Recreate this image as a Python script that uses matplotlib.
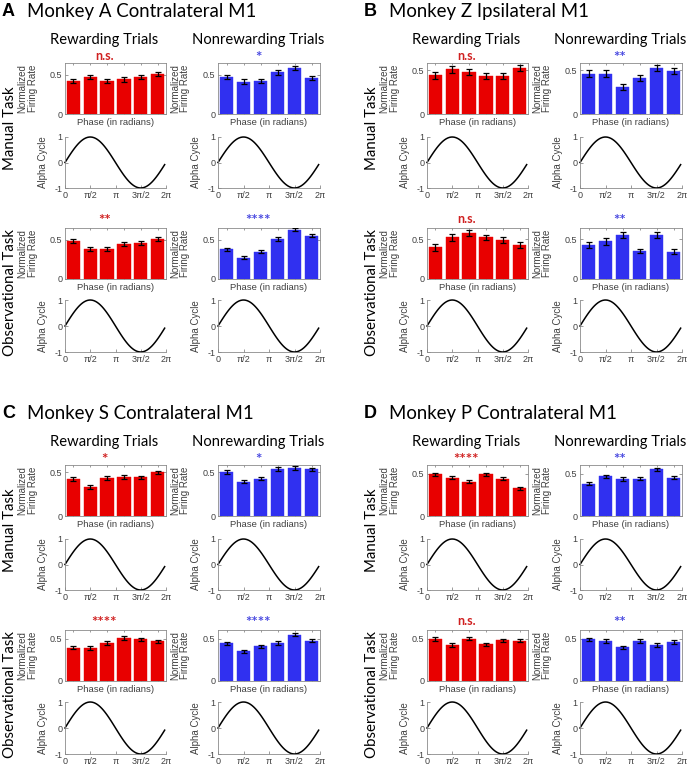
import numpy as np
import matplotlib
matplotlib.use('Agg')
import matplotlib.pyplot as plt

# ---------------- data ----------------
phase_bins = [1, 2, 3, 4, 5, 6]
phase_ticks = [0, np.pi / 2, np.pi, 3 * np.pi / 2, 2 * np.pi]
phase_ticklabels = ['0', 'π/2', 'π', '3π/2', '2π']

panel_letters = ['A', 'B', 'C', 'D']
panel_titles = ['Monkey A Contralateral M1', 'Monkey Z Ipsilateral M1',
                'Monkey S Contralateral M1', 'Monkey P Contralateral M1']
row_labels = ['Manual Task', 'Observational Task']
col_titles = ['Rewarding Trials', 'Nonrewarding Trials']

# Monkey A
A_manual_reward = [0.42, 0.47, 0.42, 0.44, 0.47, 0.51]
A_manual_reward_err = [0.03, 0.03, 0.03, 0.03, 0.03, 0.03]
A_manual_nonreward = [0.47, 0.41, 0.42, 0.53, 0.585, 0.46]
A_manual_nonreward_err = [0.03, 0.03, 0.03, 0.03, 0.03, 0.03]
A_obs_reward = [0.48, 0.38, 0.38, 0.45, 0.46, 0.51]
A_obs_reward_err = [0.025, 0.025, 0.025, 0.025, 0.025, 0.025]
A_obs_nonreward = [0.38, 0.27, 0.35, 0.51, 0.63, 0.55]
A_obs_nonreward_err = [0.02, 0.02, 0.02, 0.02, 0.02, 0.02]
A_sig = ['n.s.', '*', '**', '****']

# Monkey Z
B_manual_reward = [0.44, 0.51, 0.48, 0.435, 0.435, 0.52]
B_manual_reward_err = [0.04, 0.04, 0.035, 0.035, 0.035, 0.035]
B_manual_nonreward = [0.46, 0.46, 0.31, 0.41, 0.52, 0.485]
B_manual_nonreward_err = [0.04, 0.035, 0.035, 0.035, 0.035, 0.035]
B_obs_reward = [0.40, 0.525, 0.58, 0.525, 0.49, 0.43]
B_obs_reward_err = [0.04, 0.04, 0.035, 0.035, 0.04, 0.04]
B_obs_nonreward = [0.43, 0.475, 0.555, 0.355, 0.56, 0.345]
B_obs_nonreward_err = [0.04, 0.04, 0.035, 0.03, 0.04, 0.035]
B_sig = ['n.s.', '**', 'n.s.', '**']

# Monkey S
C_manual_reward = [0.42, 0.33, 0.435, 0.445, 0.44, 0.495]
C_manual_reward_err = [0.02, 0.02, 0.02, 0.02, 0.02, 0.02]
C_manual_nonreward = [0.50, 0.39, 0.425, 0.535, 0.545, 0.53]
C_manual_nonreward_err = [0.02, 0.02, 0.02, 0.02, 0.02, 0.02]
C_obs_reward = [0.395, 0.39, 0.45, 0.51, 0.495, 0.47]
C_obs_reward_err = [0.02, 0.02, 0.02, 0.02, 0.02, 0.02]
C_obs_nonreward = [0.445, 0.35, 0.41, 0.45, 0.55, 0.48]
C_obs_nonreward_err = [0.02, 0.02, 0.02, 0.02, 0.02, 0.02]
C_sig = ['*', '*', '****', '****']

# Monkey P
D_manual_reward = [0.49, 0.45, 0.405, 0.49, 0.44, 0.325]
D_manual_reward_err = [0.02, 0.02, 0.02, 0.02, 0.02, 0.02]
D_manual_nonreward = [0.38, 0.465, 0.435, 0.44, 0.55, 0.45]
D_manual_nonreward_err = [0.02, 0.02, 0.02, 0.02, 0.02, 0.02]
D_obs_reward = [0.495, 0.425, 0.50, 0.43, 0.48, 0.475]
D_obs_reward_err = [0.02, 0.02, 0.02, 0.02, 0.02, 0.02]
D_obs_nonreward = [0.49, 0.47, 0.395, 0.47, 0.425, 0.46]
D_obs_nonreward_err = [0.02, 0.02, 0.02, 0.02, 0.02, 0.02]
D_sig = ['****', '**', 'n.s.', '**']

panels = {
    'A': [[(A_manual_reward, A_manual_reward_err), (A_manual_nonreward, A_manual_nonreward_err)],
          [(A_obs_reward, A_obs_reward_err), (A_obs_nonreward, A_obs_nonreward_err)]],
    'B': [[(B_manual_reward, B_manual_reward_err), (B_manual_nonreward, B_manual_nonreward_err)],
          [(B_obs_reward, B_obs_reward_err), (B_obs_nonreward, B_obs_nonreward_err)]],
    'C': [[(C_manual_reward, C_manual_reward_err), (C_manual_nonreward, C_manual_nonreward_err)],
          [(C_obs_reward, C_obs_reward_err), (C_obs_nonreward, C_obs_nonreward_err)]],
    'D': [[(D_manual_reward, D_manual_reward_err), (D_manual_nonreward, D_manual_nonreward_err)],
          [(D_obs_reward, D_obs_reward_err), (D_obs_nonreward, D_obs_nonreward_err)]],
}
sigs = {'A': A_sig, 'B': B_sig, 'C': C_sig, 'D': D_sig}

# alpha reference cycle (sampled 0:0.1:6.2 as in the original)
alpha_phase = np.arange(0, 6.25, 0.1)
alpha_cycle = np.sin(alpha_phase)

# ---------------- style / layout ----------------
W, H = 688, 766
fig = plt.figure(figsize=(W / 100, H / 100), dpi=100)

RED = '#e80000'
BLUE = '#3030f0'
SIG_RED = '#d02020'
SIG_BLUE = '#4848e0'
GREY = '#8a8a8a'
TXT = '#404040'
SANS = ['Liberation Sans', 'DejaVu Sans']
TITLE_FONT = ['Lato', 'DejaVu Sans']

offsets = {'A': (0, 0), 'B': (362, 0), 'C': (0, 402), 'D': (362, 402)}
col_x = [(65, 166), (218, 320)]
row_bar_y = [(63, 114), (228, 279)]
row_sin_y = [(137, 188), (300, 352)]
row_sig_y = [56, 219]
row_label_y = [128, 292]
ytops = {'A': [0.65, 0.65], 'B': [0.58, 0.645], 'C': [0.58, 0.605], 'D': [0.6, 0.6]}


def ax_px(x1, y1, x2, y2):
    return fig.add_axes([x1 / W, 1 - y2 / H, (x2 - x1) / W, (y2 - y1) / H])


def txt(x, y, s, **kw):
    fig.text(x / W, 1 - y / H, s, **kw)


def style_ticks(ax):
    ax.tick_params(direction='in', length=2, width=0.6, colors=GREY,
                   labelcolor=TXT, labelsize=6.5, pad=2)
    for lab in ax.get_xticklabels() + ax.get_yticklabels():
        lab.set_fontfamily(SANS)


for key in panel_letters:
    ox, oy = offsets[key]
    i = panel_letters.index(key)
    txt(ox + 2, oy + 11, key, fontsize=13, fontweight='bold', family=SANS,
        ha='left', va='center', color='black')
    txt(ox + 27, oy + 11, panel_titles[i], fontsize=13.4, family=TITLE_FONT,
        ha='left', va='center', color='black')
    for c in range(2):
        x1, x2 = col_x[c]
        cx = (x1 + x2) / 2 - 11
        txt(ox + cx, oy + 40, col_titles[c], fontsize=10.6, family=TITLE_FONT,
            ha='center', va='center', color='black')
    for r in range(2):
        txt(ox + 10, oy + row_label_y[r], row_labels[r], fontsize=10.8,
            family=TITLE_FONT, rotation=90, ha='center', va='center', color='black')
        for c in range(2):
            x1, x2 = col_x[c]
            vals, errs = panels[key][r][c]
            color = RED if c == 0 else BLUE
            scol = SIG_RED if c == 0 else SIG_BLUE
            by1, by2 = row_bar_y[r]
            ax = ax_px(ox + x1, oy + by1, ox + x2, oy + by2)
            ax.bar(phase_bins, vals, width=0.8, color=color, edgecolor=color,
                   linewidth=0.3, zorder=2)
            ax.errorbar(phase_bins, vals, yerr=errs, fmt='none', ecolor='black',
                        elinewidth=0.9, capsize=2, capthick=0.9, zorder=3)
            ax.set_xlim(0.5, 6.5)
            ax.set_ylim(0, ytops[key][r])
            ax.set_yticks([0, 0.5])
            ax.set_yticklabels(['0', '0.5'])
            ax.set_xticks(phase_bins)
            ax.set_xticklabels([])
            ax.tick_params(top=True, right=True)
            style_ticks(ax)
            ax.tick_params(axis='x', length=1.5)
            for sp in ax.spines.values():
                sp.set_color(GREY)
                sp.set_linewidth(0.6)
            ax.set_xlabel('Phase (in radians)', fontsize=6.8, family=SANS, color=TXT)
            ax.xaxis.set_label_coords(0.5, -0.07, transform=ax.transAxes)
            ax.xaxis.label.set_va('top')
            ax.set_ylabel('Normalized\nFiring Rate', fontsize=7, family=SANS,
                          color=TXT, linespacing=1.0)
            ax.yaxis.set_label_coords(-0.27, 0.5)
            label = sigs[key][2 * r + c]
            is_star = label.startswith('*')
            txt(ox + (x1 + x2) / 2 - 11, oy + row_sig_y[r] + (2 if is_star else 0),
                label, fontsize=11 if is_star else 9, fontweight='bold',
                family=TITLE_FONT, color=scol, ha='center', va='center')

            sy1, sy2 = row_sin_y[r]
            ax2 = ax_px(ox + x1, oy + sy1, ox + x2, oy + sy2)
            ax2.plot(alpha_phase, alpha_cycle, color='black', lw=1.1, clip_on=False)
            ax2.set_xlim(0, 2 * np.pi)
            ax2.set_ylim(-1, 1)
            ax2.set_xticks(phase_ticks)
            ax2.set_xticklabels(phase_ticklabels)
            ax2.set_yticks([-1, 0, 1])
            ax2.set_yticklabels(['-1', '0', '1'])
            for sname in ['top', 'right']:
                ax2.spines[sname].set_visible(False)
            for sname in ['left', 'bottom']:
                ax2.spines[sname].set_color(GREY)
                ax2.spines[sname].set_linewidth(0.6)
            style_ticks(ax2)
            ax2.set_ylabel('Alpha Cycle', fontsize=7, family=SANS, color=TXT)
            ax2.yaxis.set_label_coords(-0.17, 0.5)

fig.savefig('out.png', dpi=100)
